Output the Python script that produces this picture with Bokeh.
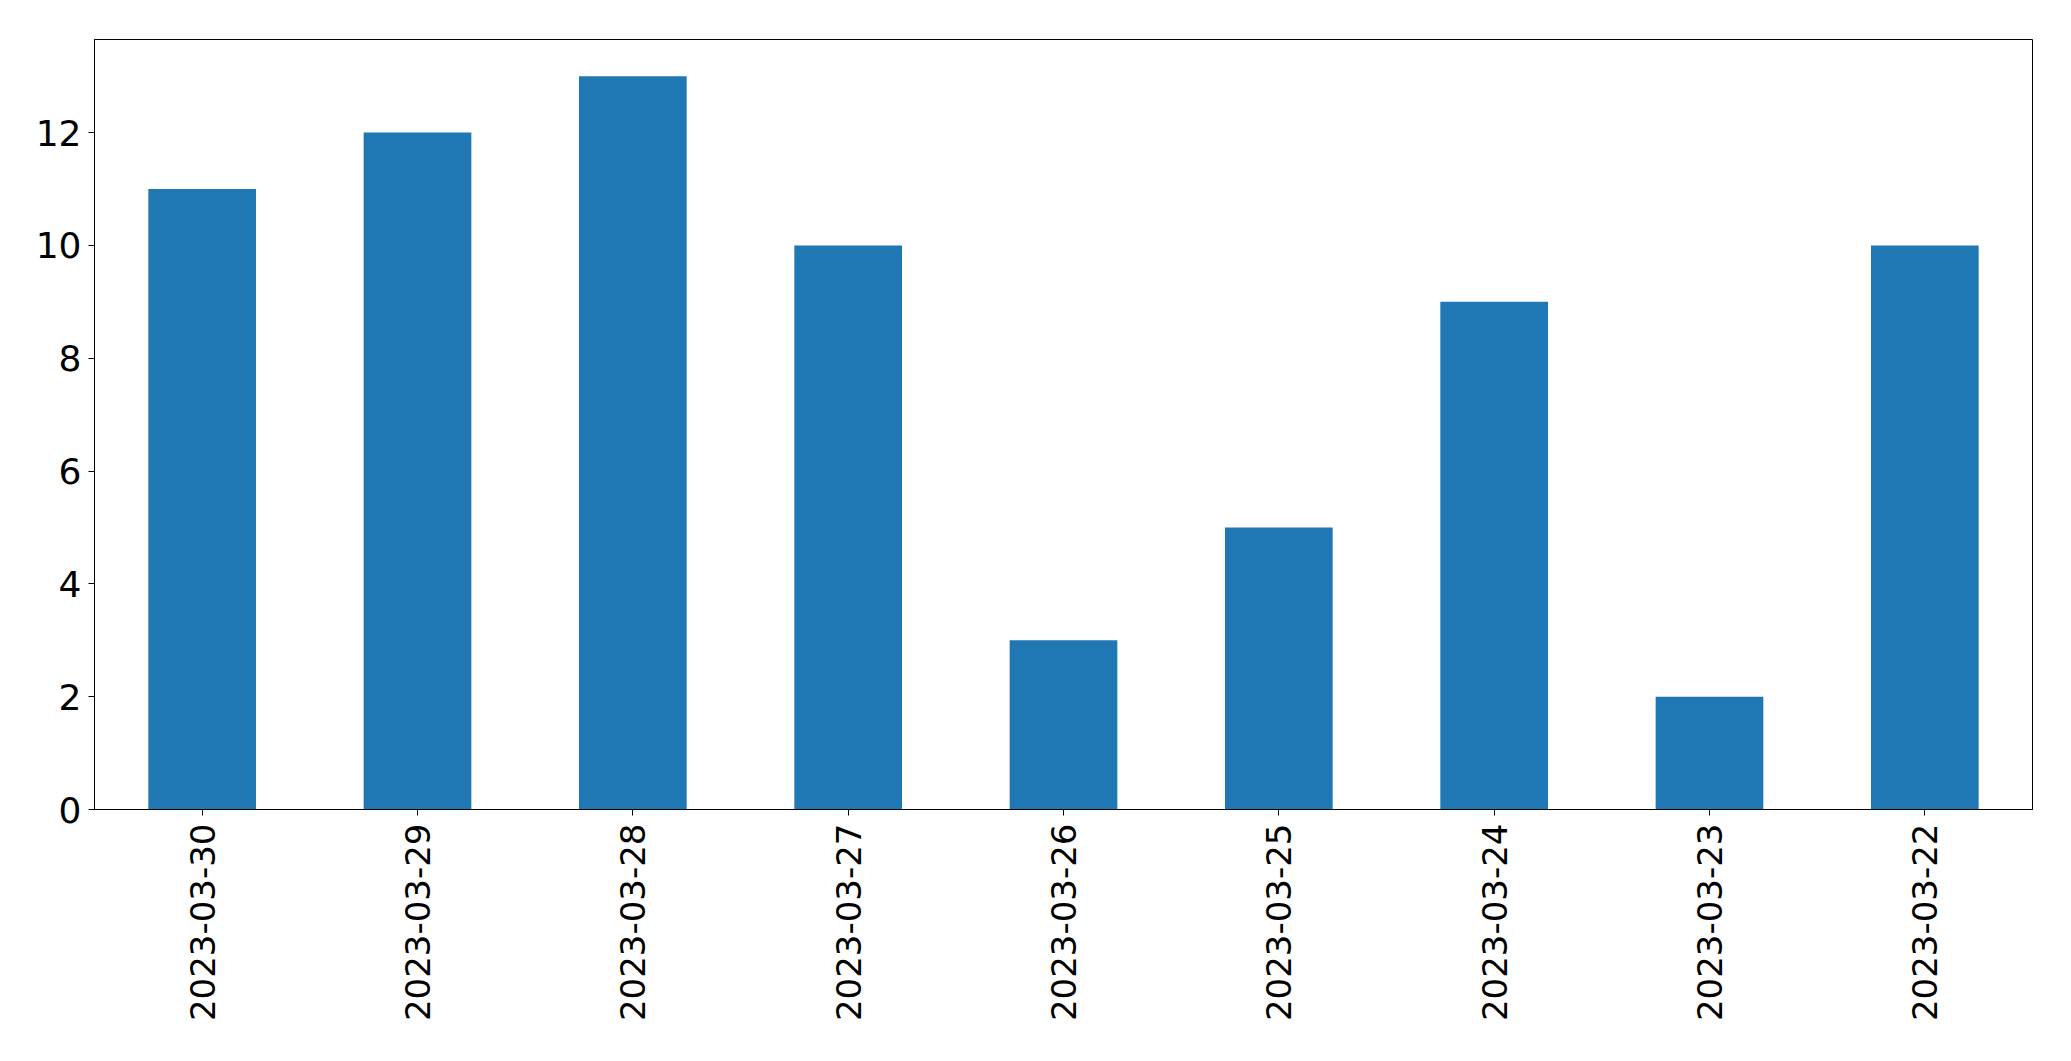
import math
from bokeh.plotting import figure
from bokeh.models import FactorRange, Range1d, FixedTicker, ColumnDataSource
from bokeh.embed import file_html
from bokeh.resources import INLINE

dates = ["2023-03-30", "2023-03-29", "2023-03-28", "2023-03-27", "2023-03-26",
         "2023-03-25", "2023-03-24", "2023-03-23", "2023-03-22"]
counts = [11, 12, 13, 10, 3, 5, 9, 2, 10]
y_ticks = [0, 2, 4, 6, 8, 10, 12]

src = ColumnDataSource(data=dict(date=dates, count=counts))

p = figure(x_range=FactorRange(*dates), y_range=Range1d(0, max(counts) * 1.05),
           width=2063, height=1053, output_backend="svg", toolbar_location=None,
           min_border_left=94, min_border_right=31, min_border_top=39, min_border_bottom=244)

p.vbar(x="date", top="count", width=0.5, source=src, fill_color="#1f77b4", line_color=None)

p.xgrid.visible = False
p.ygrid.visible = False
p.outline_line_color = "black"
p.outline_line_width = 1
p.outline_line_alpha = 1

for ax in (p.xaxis[0], p.yaxis[0]):
    ax.axis_line_color = "black"
    ax.major_tick_line_color = "black"
    ax.major_tick_in = 0
    ax.major_tick_out = 6
    ax.minor_tick_line_color = None
    ax.major_label_text_font = "DejaVu Sans"
    ax.major_label_text_color = "black"
    ax.major_label_standoff = 7

p.yaxis.major_label_text_font_size = "36px"
p.xaxis.major_label_text_font_size = "34px"
p.yaxis.ticker = FixedTicker(ticks=y_ticks)
p.xaxis.major_label_orientation = math.pi / 2
p.xaxis.major_label_standoff = 8

open("out.html", "w").write(file_html(p, INLINE))
